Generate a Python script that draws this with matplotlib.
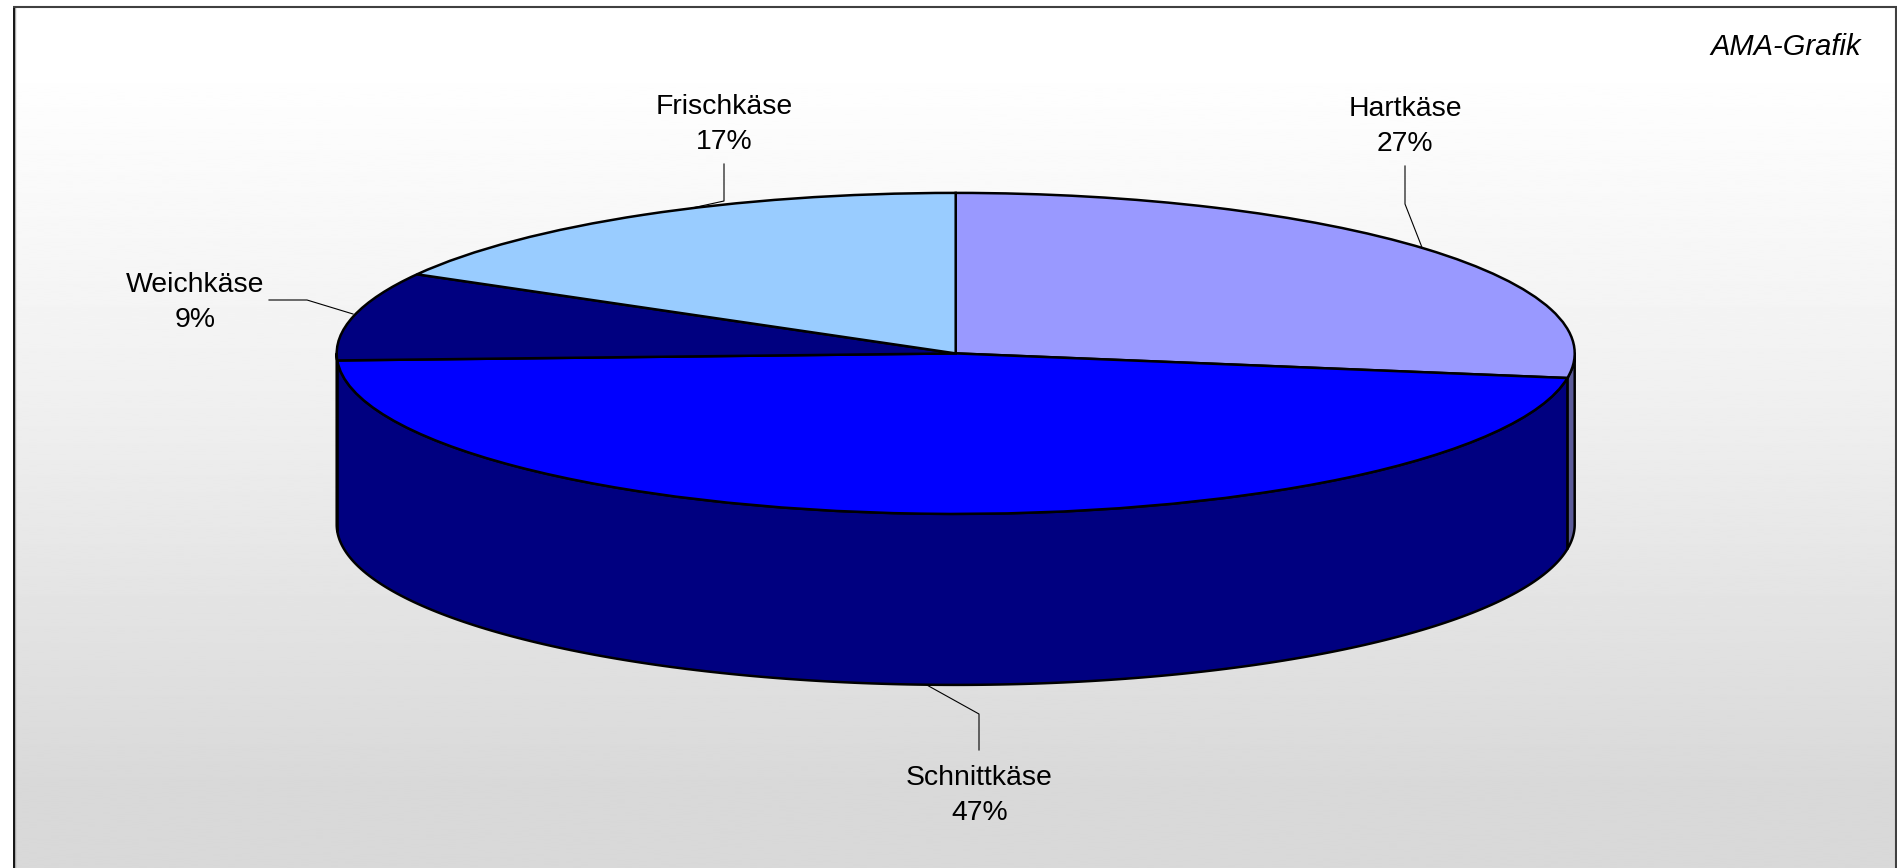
import numpy as np
import matplotlib
matplotlib.use('Agg')
import matplotlib.pyplot as plt

plt.rcParams['font.family'] = ['Liberation Sans', 'DejaVu Sans']

W, H = 1897, 868

labels = ['Hartkäse', 'Schnittkäse', 'Weichkäse', 'Frischkäse']
shares = [27.45, 46.85, 8.9, 16.8]
top_colors = ['#9999FF', '#0000FF', '#000080', '#99CCFF']
wall_colors = ['#5C5C99', '#000080', '#000080', '#5C7A99']

# pie geometry in pixels
cx, cy = 955.7, 353.4
rx, ry = 619, 160.5
depth = 171 / ry

fig = plt.figure(figsize=(W / 100, H / 100), dpi=100, facecolor='white')

# background panel with grey gradient
bg = fig.add_axes([0, 0, 1, 1])
bg.axis('off')
grad = np.interp(np.linspace(0, 1, 400), [0, 0.09, 0.45, 0.90, 1], [255, 254, 240, 217, 217])
bg.imshow(grad[:, None], cmap='gray', vmin=0, vmax=255, aspect='auto',
          extent=(15, W, H, 7), interpolation='bilinear')
bg.plot([14.5, 14.5], [H, 8], color='#AAAAAA', lw=1)
bg.plot([13.5, 13.5], [H, 6], color='black', lw=1.3, solid_capstyle='butt')
bg.plot([13, W], [6.5, 6.5], color='#404040', lw=1.5, solid_capstyle='butt')
bg.plot([1895.8, 1895.8], [6, H], color='#404040', lw=1.5, solid_capstyle='butt')
bg.set_xlim(0, W)
bg.set_ylim(H, 0)

# pie axes: unit circle is stretched to the ellipse
ax = fig.add_axes([0, 0, 1, 1], facecolor='none')
wedges, _ = ax.pie(shares, colors=top_colors, startangle=90, counterclock=False,
                   radius=1, wedgeprops={'edgecolor': 'black', 'linewidth': 1.8, 'zorder': 5})
ax.set_aspect('auto')
ax.set_xlim(-cx / rx, (W - cx) / rx)
ax.set_ylim(-(H - cy) / ry, cy / ry)
ax.axis('off')

# side walls, only the front half of the rim is visible
edges = np.cumsum([0] + shares) / sum(shares) * 2 * np.pi
for i in range(len(shares)):
    lo, hi = max(edges[i], np.pi / 2), min(edges[i + 1], 3 * np.pi / 2)
    if lo >= hi:
        continue
    t = np.linspace(lo, hi, 200)
    x, y = np.sin(t), np.cos(t)
    ax.fill(np.r_[x, x[::-1]], np.r_[y, y[::-1] - depth], facecolor=wall_colors[i],
            edgecolor='black', lw=1.8, zorder=3, joinstyle='round')

# leader lines and label baselines in pixel coordinates
leaders = {
    'Hartkäse': [(1405, 166), (1405, 204), (1423, 250)],
    'Schnittkäse': [(979, 750), (979, 714), (925, 684)],
    'Weichkäse': [(269, 300), (307, 300), (353, 314)],
    'Frischkäse': [(724, 164), (724, 201), (692, 208)],
}
label_pos = {
    'Hartkäse': (1405, 116),
    'Schnittkäse': (979.5, 785),
    'Weichkäse': (195.5, 292),
    'Frischkäse': (724.5, 114),
}
line_step = 35
for name, share in zip(labels, shares):
    xs, ys = zip(*leaders[name])
    bg.plot(xs, ys, color='black', lw=0.8, zorder=2)
    lx, ly = label_pos[name]
    fig.text(lx / W, 1 - ly / H, name, ha='center', va='baseline', fontsize=20.4, color='black')
    fig.text(lx / W, 1 - (ly + line_step) / H, f'{share:.0f}%', ha='center', va='baseline',
             fontsize=20.4, color='black')

fig.text(1861 / W, 1 - 47 / H, 'AMA-Grafik', ha='right', va='center',
         fontsize=21, style='italic', color='black')

fig.savefig('out.png', dpi=100)
